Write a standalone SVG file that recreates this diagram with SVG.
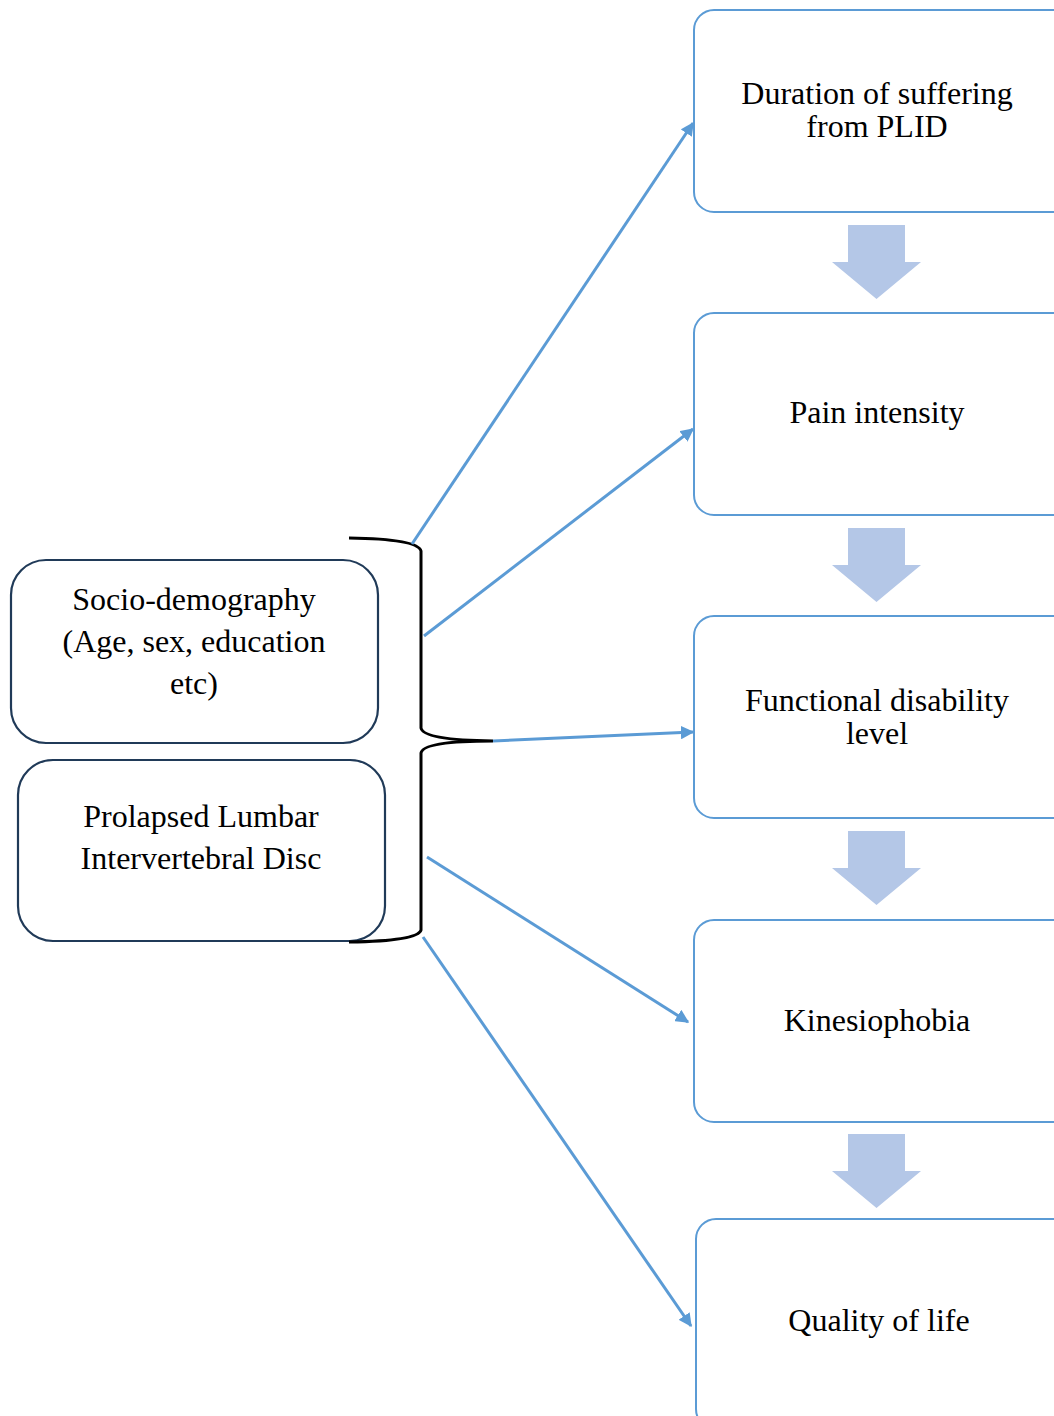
<svg xmlns="http://www.w3.org/2000/svg" width="1054" height="1416" viewBox="0 0 1054 1416">
<style>
.rb{fill:#fff;stroke:#5b9bd5;stroke-width:2}
.lb{fill:#fff;stroke:#203a58;stroke-width:2.2}
.t{font-family:"Liberation Serif","Times New Roman",serif;font-size:32px;fill:#000;text-anchor:middle}
.c{stroke:#5b9bd5;stroke-width:3;fill:none}
.ba{fill:#b4c7e7}
</style>
<defs>
<marker id="ah" viewBox="0 0 10 10" refX="9" refY="5" markerWidth="4.5" markerHeight="4.5" orient="auto" markerUnits="strokeWidth">
<path d="M0,0 L10,5 L0,10 z" fill="#5b9bd5"/>
</marker>
</defs>
<g id="n1"><rect class="rb" x="694" y="10" width="380" height="202" rx="20"/>
<text class="t" x="877" y="104">Duration of suffering</text><text class="t" x="877" y="137">from PLID</text></g>
<g id="n2"><rect class="rb" x="694" y="313" width="380" height="202" rx="20"/>
<text class="t" x="877" y="423">Pain intensity</text></g>
<g id="n3"><rect class="rb" x="694" y="616" width="380" height="202" rx="20"/>
<text class="t" x="877" y="711">Functional disability</text><text class="t" x="877" y="744">level</text></g>
<g id="n4"><rect class="rb" x="694" y="920" width="380" height="202" rx="20"/>
<text class="t" x="877" y="1031">Kinesiophobia</text></g>
<g id="n5"><rect class="rb" x="696" y="1219" width="380" height="210" rx="20"/>
<text class="t" x="879" y="1331">Quality of life</text></g>
<g id="b1"><path class="ba" d="M848,225 H905 V262 H921 L876.5,299 L832,262 H848 Z"/></g>
<g id="b2"><path class="ba" d="M848,528 H905 V565 H921 L876.5,602 L832,565 H848 Z"/></g>
<g id="b3"><path class="ba" d="M848,831 H905 V868 H921 L876.5,905 L832,868 H848 Z"/></g>
<g id="b4"><path class="ba" d="M848,1134 H905 V1171 H921 L876.5,1208 L832,1171 H848 Z"/></g>
<g id="nA"><rect class="lb" x="11" y="560" width="367" height="183" rx="35"/>
<text class="t" x="194" y="610">Socio-demography</text><text class="t" x="194" y="652">(Age, sex, education</text><text class="t" x="194" y="694">etc)</text></g>
<g id="nB"><rect class="lb" x="18" y="760" width="367" height="181" rx="35"/>
<text class="t" x="201" y="827">Prolapsed Lumbar</text><text class="t" x="201" y="869">Intervertebral Disc</text></g>
<g id="brace"><path d="M349,538 Q418,539 421,551 V728 Q423,740 493,741 Q423,741 421,753 V930 Q418,941 349,942" fill="none" stroke="#000" stroke-width="3"/></g>
<g id="connectors">
<line class="c" x1="412" y1="544" x2="693" y2="123" marker-end="url(#ah)"/>
<line class="c" x1="424" y1="636" x2="693" y2="429" marker-end="url(#ah)"/>
<line class="c" x1="493" y1="741" x2="693" y2="732" marker-end="url(#ah)"/>
<line class="c" x1="427" y1="857" x2="688" y2="1022" marker-end="url(#ah)"/>
<line class="c" x1="423" y1="937" x2="691" y2="1326" marker-end="url(#ah)"/>
</g>
</svg>
